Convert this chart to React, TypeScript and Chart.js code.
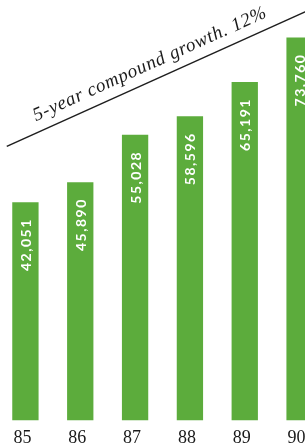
import React, { useEffect, useRef } from "react";
import { Chart, registerables } from "chart.js";

Chart.register(...registerables);

const categories = ["85", "86", "87", "88", "89", "90"];
const revenue = [42051, 45890, 55028, 58596, 65191, 73760];
const valueLabels = ["42,051", "45,890", "55,028", "58,596", "65,191", "73,760"];
const growthCaption = "5-year compound growth. 12%";
// trend line endpoints in data units: [category index, value]
const growthLineFrom = [-0.34, 52800];
const growthLineTo = [5.12, 78800];

const GREEN = "#5cac3c";

const overlayPlugin = {
  id: "overlay",
  afterDatasetsDraw(chart: any) {
    const ctx = chart.ctx;
    const meta = chart.getDatasetMeta(0);
    ctx.save();
    ctx.fillStyle = "#ffffff";
    ctx.font = "bold 14px Lato, 'Noto Sans', sans-serif";
    (ctx as any).letterSpacing = "1.5px";
    ctx.textAlign = "right";
    ctx.textBaseline = "middle";
    meta.data.forEach((bar: any, i: number) => {
      ctx.save();
      ctx.translate(bar.x + 1, bar.y + 16);
      ctx.rotate(-Math.PI / 2);
      ctx.fillText(valueLabels[i], 0, 0);
      ctx.restore();
    });
    ctx.restore();
  },
  afterDraw(chart: any) {
    const ctx = chart.ctx;
    const xs = chart.scales.x;
    const ys = chart.scales.y;
    const x0 = xs.getPixelForValue(growthLineFrom[0]);
    const y0 = ys.getPixelForValue(growthLineFrom[1]);
    const x1 = xs.getPixelForValue(growthLineTo[0]);
    const y1 = ys.getPixelForValue(growthLineTo[1]);
    ctx.save();
    ctx.strokeStyle = "#1e1e1e";
    ctx.lineWidth = 1.5;
    ctx.beginPath();
    ctx.moveTo(x0, y0);
    ctx.lineTo(x1, y1);
    ctx.stroke();
    const ang = Math.atan2(y1 - y0, x1 - x0);
    ctx.translate(x0, y0);
    ctx.rotate(ang);
    ctx.fillStyle = "#1a1a1a";
    ctx.font = "italic 19px 'Liberation Serif', serif";
    (ctx as any).letterSpacing = "0.7px";
    ctx.textAlign = "left";
    ctx.textBaseline = "alphabetic";
    ctx.fillText(growthCaption, 37, -11);
    ctx.restore();
  },
};

export default function App() {
  const ref = useRef<HTMLCanvasElement>(null);
  useEffect(() => {
    document.body.style.margin = "0";
    const chart = new Chart(ref.current as HTMLCanvasElement, {
      type: "bar",
      data: {
        labels: categories,
        datasets: [
          {
            data: revenue,
            backgroundColor: GREEN,
            borderWidth: 0,
            categoryPercentage: 1,
            barPercentage: 0.48,
          },
        ],
      },
      options: {
        responsive: false,
        animation: false,
        devicePixelRatio: 1,
        layout: { padding: { top: 0, left: 0, right: 0, bottom: -8 } },
        plugins: { legend: { display: false }, tooltip: { enabled: false } },
        scales: {
          x: {
            grid: { display: false, drawTicks: false },
            border: { display: false },
            ticks: {
              color: "#1a1a1a",
              font: { family: "'Liberation Serif', serif", size: 18 },
              padding: 7,
              labelOffset: -3,
            },
          },
          y: { display: false, min: 0, max: 81000 },
        },
      },
      plugins: [overlayPlugin],
    });
    return () => chart.destroy();
  }, []);
  return (
    <div style={{ position: "relative", width: 305, height: 448, overflow: "hidden", background: "#fff" }}>
      <div style={{ position: "absolute", left: -2, top: 0, width: 329, height: 448 }}>
        <canvas ref={ref} width={329} height={448} />
      </div>
    </div>
  );
}
